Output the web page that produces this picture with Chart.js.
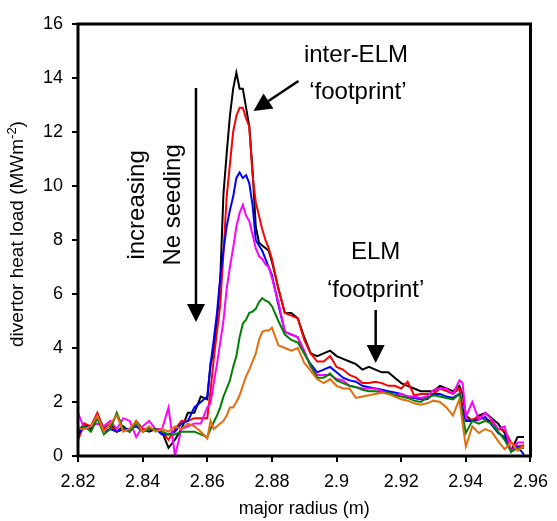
<!DOCTYPE html>
<html>
<head>
<meta charset="utf-8">
<script src="https://cdn.jsdelivr.net/npm/chart.js@4.4.1/dist/chart.umd.min.js"></script>
<style>
  html, body { margin: 0; padding: 0; background: #fff; }
  #wrap { width: 557px; height: 521px; }
</style>
</head>
<body>
<div id="wrap"><canvas id="chart"></canvas></div>
<script>
// --- DATOS ---
const radius = [
  2.820, 2.822, 2.824, 2.826, 2.828, 2.830, 2.832, 2.834, 2.836, 2.838, 2.840,
  2.842, 2.844, 2.846, 2.848, 2.850, 2.852, 2.854, 2.856, 2.858, 2.860,
  2.861, 2.862, 2.863, 2.864, 2.865, 2.866, 2.867, 2.868, 2.869, 2.870,
  2.871, 2.872, 2.873, 2.874, 2.875, 2.876, 2.877, 2.878, 2.879, 2.880,
  2.882, 2.884, 2.886, 2.888, 2.890, 2.892, 2.894, 2.896, 2.898, 2.900,
  2.902, 2.904, 2.906, 2.908, 2.910, 2.912, 2.914, 2.916, 2.918, 2.920,
  2.922, 2.924, 2.926, 2.928, 2.930, 2.932, 2.934, 2.936, 2.938, 2.939,
  2.940, 2.942, 2.944, 2.946, 2.948, 2.950, 2.952, 2.954, 2.956, 2.958
];

const loadBlack = [
  0.9, 1.2, 1.0, 1.5, 1.0, 1.2, 0.9, 1.1, 0.9, 1.3, 1.0, 0.9, 1.0, 0.9, 0.3, 0.6, 1.0, 1.6, 1.6, 2.2, 2.1,
  3.4, 3.9, 5.0, 6.5, 9.7, 11.2, 12.6, 13.6, 14.2, 13.6, 13.6, 12.9, 12.2, 10.6, 8.5, 7.9, 7.8, 7.7, 7.6, 7.2,
  6.2, 5.3, 5.3, 5.1, 4.4, 3.8, 3.7, 3.8, 3.9, 3.7, 3.6, 3.5, 3.4, 3.2, 3.3, 3.2, 3.1, 3.1, 2.9, 2.7,
  2.6, 2.5, 2.4, 2.4, 2.4, 2.6, 2.5, 2.4, 2.6, 2.3,
  1.5, 1.3, 1.5, 1.6, 1.4, 1.2, 0.85, 0.2, 0.7, 0.7
];
const loadRed = [
  0.6, 1.2, 1.1, 1.6, 1.0, 1.1, 0.9, 1.0, 1.0, 1.2, 1.0, 1.0, 1.0, 0.9, 0.6, 1.0, 1.3, 1.3, 1.4, 1.4, 1.4,
  2.4, 3.6, 4.6, 5.6, 7.5, 9.6, 10.8, 12.0, 12.6, 12.9, 12.9, 12.5, 12.2, 10.4, 9.4, 8.9, 8.4, 8.0, 7.7, 7.3,
  6.2, 5.3, 5.2, 5.1, 4.3, 3.8, 3.5, 3.5, 3.7, 3.3, 3.2, 3.0, 2.9, 2.7, 2.7, 2.75, 2.7, 2.6, 2.6, 2.5,
  2.75, 2.25, 2.3, 2.3, 2.3, 2.5, 2.4, 2.3, 2.5, 1.8,
  1.35, 1.35, 1.45, 1.35, 1.3, 1.0, 0.95, 0.5, 0.35, 0.4
];
const loadBlue = [
  0.8, 1.1, 1.1, 1.5, 0.9, 1.0, 0.9, 1.0, 1.0, 1.1, 0.9, 1.0, 1.0, 0.8, 0.8, 0.9, 1.2, 1.3, 1.8, 2.0, 2.2,
  3.4, 4.3, 5.3, 6.6, 7.6, 8.5, 9.1, 9.6, 10.3, 10.5, 10.3, 10.4, 10.1, 9.3, 8.0, 7.8, 7.6, 7.3, 7.0, 6.7,
  5.6, 4.6, 4.5, 4.4, 3.8, 3.4, 3.1, 3.2, 3.3, 3.1, 2.9, 2.8, 2.75, 2.6, 2.55, 2.5, 2.45, 2.4, 2.35, 2.3,
  2.2, 2.15, 2.1, 2.1, 2.3, 2.3, 2.2, 2.15, 2.3, 1.7,
  1.3, 1.3, 1.35, 1.45, 1.15, 0.85, 0.7, 0.2, 0.35, 0.05
];
const loadMagenta = [
  1.6, 1.0, 1.1, 1.2, 1.1, 1.3, 1.0, 1.4, 1.3, 0.7, 1.1, 1.3, 1.0, 1.0, 1.8, 0.0, 1.0, 1.1, 1.2, 1.2, 1.8,
  1.95, 2.7, 3.4, 4.2, 5.0, 6.2, 7.0, 7.7, 8.5, 9.0, 9.3, 8.9, 8.7, 8.2, 7.7, 7.4, 7.3, 7.1, 7.0, 6.6,
  5.7, 4.6, 4.5, 4.4, 3.9, 3.3, 3.0, 3.0, 3.0, 2.85, 2.8, 2.6, 2.55, 2.5, 2.5, 2.5, 2.4, 2.3, 2.25, 2.3,
  2.2, 2.2, 2.15, 2.2, 2.45, 2.5, 2.5, 2.3, 2.8, 2.7,
  1.45, 2.0, 1.35, 1.6, 1.35, 1.0, 1.1, 0.15, 0.5, 0.5
];
const loadGreen = [
  1.0, 1.1, 0.9, 1.4, 0.8, 1.0, 1.6, 1.0, 0.9, 1.2, 0.9, 1.0, 1.0, 0.9, 0.8, 0.8, 0.9, 0.9, 0.9, 0.8, 0.7,
  1.0, 1.25, 1.5, 1.8, 2.2, 2.5, 2.8, 3.3, 3.7, 4.4, 4.9, 5.05, 5.3, 5.35, 5.45, 5.7, 5.85, 5.75, 5.7, 5.55,
  5.0, 4.5, 4.3, 4.2, 3.8, 3.35, 2.9, 2.9, 3.05, 2.8, 2.7, 2.6, 2.55, 2.45, 2.4, 2.4, 2.35, 2.35, 2.25, 2.2,
  2.15, 2.05, 2.0, 2.15, 2.25, 2.2, 2.15, 2.1, 2.3, 1.5,
  0.85, 1.3, 1.2, 1.3, 1.2, 0.9, 0.6, 0.15, 0.3, 0.3
];
const loadOrange = [
  1.0, 1.0, 1.1, 1.5, 0.9, 1.2, 1.5, 0.9, 1.0, 1.3, 0.9, 1.1, 0.9, 1.0, 0.9, 1.1, 1.0, 1.2, 1.1, 0.9, 0.65,
  1.3, 1.0, 1.1, 1.2, 1.3, 1.5, 1.8, 1.8, 2.0, 2.25, 2.6, 2.95, 3.2, 3.5, 3.8, 4.3, 4.6, 4.65, 4.65, 4.75,
  4.1, 4.0, 3.9, 4.0, 3.45, 3.15, 2.85, 2.7, 2.85, 2.6, 2.5, 2.5, 2.15, 2.2, 2.25, 2.3, 2.35, 2.3, 2.2, 2.1,
  2.05, 1.95, 1.9, 1.95, 2.05, 2.0, 1.8, 1.5, 2.1, 1.2,
  0.35, 1.1, 0.85, 1.0, 0.9, 0.55, 0.25, 0.5, 0.2, 0.35
];

const xTicks = [2.82, 2.84, 2.86, 2.88, 2.90, 2.92, 2.94, 2.96];
const xTickLabels = ['2.82', '2.84', '2.86', '2.88', '2.9', '2.92', '2.94', '2.96'];
const yTicks = [0, 2, 4, 6, 8, 10, 12, 14, 16];
const yTickLabels = ['0', '2', '4', '6', '8', '10', '12', '14', '16'];

const FONT = "'Liberation Sans', Arial, sans-serif";

function toPoints(values) {
  return values.map((v, i) => ({ x: radius[i], y: v }));
}

function serie(values, color, order) {
  return {
    data: toPoints(values),
    borderColor: color,
    borderWidth: 2,
    pointRadius: 0,
    tension: 0,
    fill: false,
    order: order
  };
}

// --- FLECHAS Y TEXTOS ---
function arrow(ctx, x1, y1, x2, y2) {
  const ang = Math.atan2(y2 - y1, x2 - x1);
  const len = 18, half = 9;
  const bx = x2 - len * Math.cos(ang), by = y2 - len * Math.sin(ang);
  ctx.beginPath();
  ctx.moveTo(x1, y1);
  ctx.lineTo(bx, by);
  ctx.stroke();
  ctx.beginPath();
  ctx.moveTo(x2, y2);
  ctx.lineTo(bx + half * Math.sin(ang), by - half * Math.cos(ang));
  ctx.lineTo(bx - half * Math.sin(ang), by + half * Math.cos(ang));
  ctx.closePath();
  ctx.fill();
}

const annotate = {
  id: 'annotate',
  afterDatasetsDraw(chart) {
    const { ctx, chartArea: a, scales: { x, y } } = chart;
    const px = v => x.getPixelForValue(v);
    const py = v => y.getPixelForValue(v);
    ctx.save();

    // marco
    ctx.strokeStyle = '#000';
    ctx.lineWidth = 3;
    ctx.strokeRect(a.left, a.top, a.right - a.left, a.bottom - a.top);

    ctx.fillStyle = '#000';
    ctx.textAlign = 'center';
    ctx.textBaseline = 'middle';
    ctx.font = '24px ' + FONT;
    ctx.fillText('inter-ELM', px(2.906), py(14.85));
    ctx.fillText('\u2018footprint\u2019', px(2.9066), py(13.48));
    ctx.fillText('ELM', px(2.9121), py(7.56));
    ctx.fillText('\u2018footprint\u2019', px(2.9121), py(6.15));

    ctx.lineWidth = 2.5;
    arrow(ctx, px(2.8882), py(13.89), px(2.8743), py(12.78));
    arrow(ctx, px(2.8565), py(13.63), px(2.8565), py(4.96));
    arrow(ctx, px(2.9121), py(5.41), px(2.9121), py(3.44));

    ctx.save();
    ctx.translate(px(2.8384), py(9.3));
    ctx.rotate(-Math.PI / 2);
    ctx.fillText('increasing', 0, 0);
    ctx.restore();
    ctx.save();
    ctx.translate(px(2.8495), py(9.3));
    ctx.rotate(-Math.PI / 2);
    ctx.fillText('Ne seeding', 0, 0);
    ctx.restore();

    // títulos de ejes
    ctx.font = '18px ' + FONT;
    ctx.fillText('major radius (m)', (a.left + a.right) / 2, 509);

    const main = 'divertor heat load (MWm';
    const sup = '-2';
    const tail = ')';
    ctx.font = '19px ' + FONT;
    const w1 = ctx.measureText(main).width;
    const w3 = ctx.measureText(tail).width;
    ctx.font = '13px ' + FONT;
    const w2 = ctx.measureText(sup).width;
    const total = w1 + w2 + w3;
    ctx.save();
    ctx.translate(18, (a.top + a.bottom) / 2 - 6);
    ctx.rotate(-Math.PI / 2);
    ctx.textAlign = 'left';
    let cx = -total / 2;
    ctx.font = '19px ' + FONT;
    ctx.fillText(main, cx, 0);
    cx += w1;
    ctx.font = '13px ' + FONT;
    ctx.fillText(sup, cx, -6);
    cx += w2;
    ctx.font = '19px ' + FONT;
    ctx.fillText(tail, cx, 0);
    ctx.restore();

    ctx.restore();
  }
};

new Chart(document.getElementById('chart'), {
  type: 'line',
  data: {
    datasets: [
      serie(loadBlack, '#000000', 6),
      serie(loadRed, '#ff0000', 5),
      serie(loadBlue, '#0000ff', 4),
      serie(loadMagenta, '#ff00ff', 3),
      serie(loadGreen, '#008000', 2),
      serie(loadOrange, '#e46c0a', 1)
    ]
  },
  options: {
    responsive: true,
    maintainAspectRatio: false,
    animation: false,
    layout: { padding: { left: 0, top: 24, right: 23, bottom: 0 } },
    plugins: {
      legend: { display: false },
      tooltip: { enabled: false }
    },
    scales: {
      x: {
        type: 'linear',
        min: 2.82,
        max: 2.96,
        afterBuildTicks: s => { s.ticks = xTicks.map(v => ({ value: v })); },
        afterFit: s => { s.height = 65; },
        ticks: {
          callback: (v, i) => xTickLabels[i],
          font: { size: 18, family: FONT },
          color: '#000',
          padding: 9,
          maxRotation: 0,
          autoSkip: false
        },
        grid: { drawOnChartArea: false, tickLength: 6, color: '#000', lineWidth: 2 },
        border: { display: false }
      },
      y: {
        min: 0,
        max: 16,
        afterBuildTicks: s => { s.ticks = yTicks.map(v => ({ value: v })); },
        afterFit: s => { s.width = 78; },
        ticks: {
          callback: (v, i) => yTickLabels[i],
          font: { size: 18, family: FONT },
          color: '#000',
          padding: 9,
          autoSkip: false
        },
        grid: { drawOnChartArea: false, tickLength: 6, color: '#000', lineWidth: 2 },
        border: { display: false }
      }
    }
  },
  plugins: [annotate]
});
</script>
</body>
</html>
